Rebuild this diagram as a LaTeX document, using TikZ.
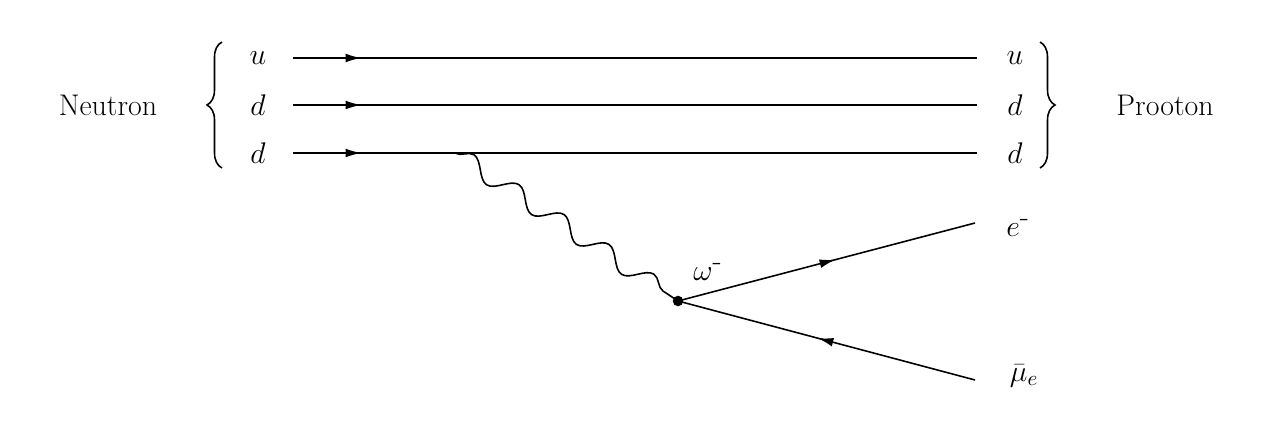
\RequirePackage{fix-cm}
\documentclass[tikz,border=0pt]{standalone}
\usepackage{fontspec}
\usetikzlibrary{decorations.pathmorphing,decorations.pathreplacing,decorations.markings,arrows.meta}
\begin{document}
\begin{tikzpicture}[x=0.02cm,y=-0.02cm,
  lbl/.style={font=\fontsize{17}{20}\selectfont},
  fer/.style={line width=0.9pt,postaction={decorate},decoration={markings,mark=at position #1 with {\arrow{Latex[length=9pt,width=5pt]}}}},
  fer/.default=0.5,
  brc/.style={line width=0.9pt,decorate,decoration={brace,amplitude=0.3cm}},
  wav/.style={line width=0.9pt,decorate,decoration={snake,segment length=1.08cm,amplitude=0.18cm}}]
\useasboundingbox (0,0) rectangle (1280,425);
\foreach \n/\y/\q in {1/58/u,2/105/d,3/153/d}{
  \coordinate (L\n) at (293,\y);
  \coordinate (R\n) at (977,\y);
  \node[lbl] (ql\n) at (258,\y) {$\q$};
  \node[lbl] (qr\n) at (1015,\y) {$\q$};
}
\draw[fer=0.1] (L1) -- (R1);
\draw[fer=0.1] (L2) -- (R2);
\draw[fer=0.1] (L3) -- (R3);
\coordinate (b1) at (222,168); \coordinate (b2) at (222,42);
\coordinate (b3) at (1040,42); \coordinate (b4) at (1040,168);
\draw[brc] (b1) -- (b2);
\draw[brc] (b3) -- (b4);
\node[lbl] (neu) at (108,105) {Neutron};
\node[lbl] (pro) at (1165,105) {Prooton};
\coordinate (W) at (455,153);
\node[circle,fill,inner sep=0pt,minimum size=6pt] (V) at (678,301) {};
\draw[wav] (W) -- (V.center);
\node[lbl] (om) at (708,272) {$\omega^{\mbox{-}}$};
\coordinate (E) at (975,223);
\coordinate (N) at (975,380);
\draw[fer=0.53] (V.center) -- (E);
\draw[fer=0.53] (N) -- (V.center);
\node[lbl] (el) at (1018,228) {$e^{\mbox{-}}$};
\node[lbl] (nu) at (1024,376) {$\bar{\mu}_e$};
\end{tikzpicture}
\end{document}
